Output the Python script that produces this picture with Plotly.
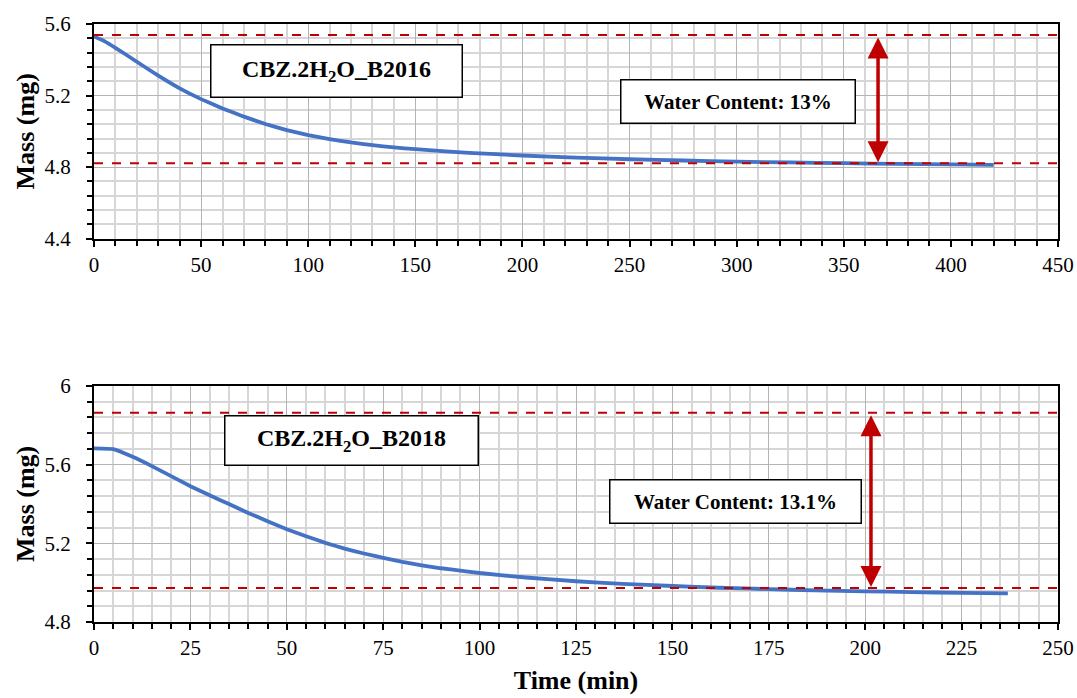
import plotly.graph_objects as go
from plotly.subplots import make_subplots

# ---- data ----
time_b2016 = [0, 5, 10, 20, 30, 40, 50, 60, 70, 80, 90, 100, 110, 120, 130, 140, 150, 175,
              200, 225, 250, 275, 300, 325, 350, 375, 400, 420]
mass_b2016 = [5.530, 5.503, 5.467, 5.389, 5.311, 5.240, 5.180, 5.128, 5.082, 5.041, 5.007, 4.979,
              4.957, 4.938, 4.923, 4.910, 4.900, 4.880,
              4.865, 4.853, 4.844, 4.837, 4.831, 4.826, 4.822, 4.818, 4.815, 4.813]
time_b2018 = [0, 5, 10, 15, 20, 25, 30, 35, 40, 45, 50, 55, 60, 65, 70, 75, 80, 85, 90, 95, 100,
              112, 125, 137, 150, 162, 175, 187, 200, 212, 225, 237]
mass_b2018 = [5.682, 5.678, 5.639, 5.592, 5.541, 5.490, 5.444, 5.399, 5.354, 5.312, 5.271, 5.236,
              5.202, 5.173, 5.148, 5.126, 5.105, 5.088, 5.073, 5.061, 5.049,
              5.026, 5.007, 4.994, 4.983, 4.974, 4.967, 4.961, 4.956, 4.952, 4.948, 4.945]

upper_b2016, lower_b2016 = 5.538, 4.822
upper_b2018, lower_b2018 = 5.863, 4.973
arrow_x_b2016 = 366
arrow_x_b2018 = 201.5

label_b2016 = "CBZ.2H<sub>2</sub>O_B2016"
label_b2018 = "CBZ.2H<sub>2</sub>O_B2018"
wc_b2016 = "Water Content: 13%"
wc_b2018 = "Water Content: 13.1%"

FONT = "Liberation Serif"
RED = "#C00000"
BLUE = "#4472C4"

fig = make_subplots(rows=2, cols=1, vertical_spacing=0.0)
fig.update_layout(
    width=1077, height=698,
    margin=dict(l=94, r=19, t=24, b=76),
    paper_bgcolor="white", plot_bgcolor="white",
    showlegend=False,
    font=dict(family=FONT, size=21, color="black"),
    yaxis=dict(domain=[0.641, 1.0]),
    yaxis2=dict(domain=[0.0, 0.395]),
)

fig.add_trace(go.Scatter(x=time_b2016, y=mass_b2016, mode="lines",
                         line=dict(color=BLUE, width=3.8, shape="spline", smoothing=0.3)), row=1, col=1)
fig.add_trace(go.Scatter(x=time_b2018, y=mass_b2018, mode="lines",
                         line=dict(color=BLUE, width=3.8, shape="spline", smoothing=0.3)), row=2, col=1)

axis_common = dict(
    showline=True, linecolor="black", linewidth=2, mirror=True,
    showgrid=True, gridcolor="#b3b3b3", gridwidth=1.2,
    ticks="outside", ticklen=6, tickwidth=1.5, tickcolor="black",
    zeroline=False, tickmode="linear", automargin=False,
    tickfont=dict(family=FONT, size=21, color="black"),
)
minor_common = dict(showgrid=True, gridcolor="#d6d6d6", gridwidth=1.6,
                    ticks="outside", ticklen=5, tickcolor="black", tickwidth=1.5)
title_font = dict(family=FONT, size=26, color="black")

fig.update_xaxes(**axis_common, range=[0, 450], tick0=0, dtick=50,
                 minor=dict(dtick=10, **minor_common), row=1, col=1)
fig.update_xaxes(**axis_common, range=[0, 250], tick0=0, dtick=25,
                 minor=dict(dtick=5, **minor_common),
                 title=dict(text="<b>Time (min)</b>", font=title_font, standoff=12),
                 row=2, col=1)
fig.update_yaxes(**axis_common, range=[4.4, 5.6], tick0=4.4, dtick=0.4, tickformat=".1f",
                 ticklabelstandoff=11,
                 minor=dict(dtick=0.08, **minor_common),
                 title=dict(text="<b>Mass (mg)</b>", font=title_font, standoff=2),
                 row=1, col=1)
fig.update_yaxes(**axis_common, range=[4.8, 6.0], tick0=4.8, dtick=0.4,
                 ticklabelstandoff=11,
                 minor=dict(dtick=0.08, **minor_common),
                 title=dict(text="<b>Mass (mg)</b>", font=title_font, standoff=2),
                 row=2, col=1)

# dashed reference lines
for yref, xref, vals in [("y", "x domain", (upper_b2016, lower_b2016)),
                         ("y2", "x2 domain", (upper_b2018, lower_b2018))]:
    for v in vals:
        fig.add_shape(type="line", xref=xref, yref=yref, x0=0, x1=1, y0=v, y1=v,
                      line=dict(color=RED, width=2, dash="dash"))

# double-headed arrows
for xr, yr, ax_x, lo, hi in [("x", "y", arrow_x_b2016, lower_b2016, upper_b2016),
                             ("x2", "y2", arrow_x_b2018, lower_b2018, upper_b2018)]:
    fig.add_annotation(xref=xr, yref=yr, axref=xr, ayref=yr,
                       x=ax_x, y=lo, ax=ax_x, ay=hi, text="",
                       showarrow=True, arrowside="end+start", arrowhead=2,
                       arrowsize=1.2, arrowwidth=3.5, arrowcolor=RED,
                       standoff=1, startstandoff=1)

# text boxes
box = dict(showarrow=False, bgcolor="white", bordercolor="black", borderwidth=1.5)
fig.add_annotation(xref="x", yref="y", x=113, y=5.34, text="<b>" + label_b2016 + "</b>",
                   width=248, height=49, font=dict(family=FONT, size=24, color="black"), **box)
fig.add_annotation(xref="x", yref="y", x=300.6, y=5.169, text="<b>" + wc_b2016 + "</b>",
                   width=231, height=40, font=dict(family=FONT, size=21, color="black"), **box)
fig.add_annotation(xref="x2", yref="y2", x=66.7, y=5.724, text="<b>" + label_b2018 + "</b>",
                   width=250, height=46, font=dict(family=FONT, size=24, color="black"), **box)
fig.add_annotation(xref="x2", yref="y2", x=166.3, y=5.414, text="<b>" + wc_b2018 + "</b>",
                   width=248, height=40, font=dict(family=FONT, size=21, color="black"), **box)

fig.write_html("out.html")
